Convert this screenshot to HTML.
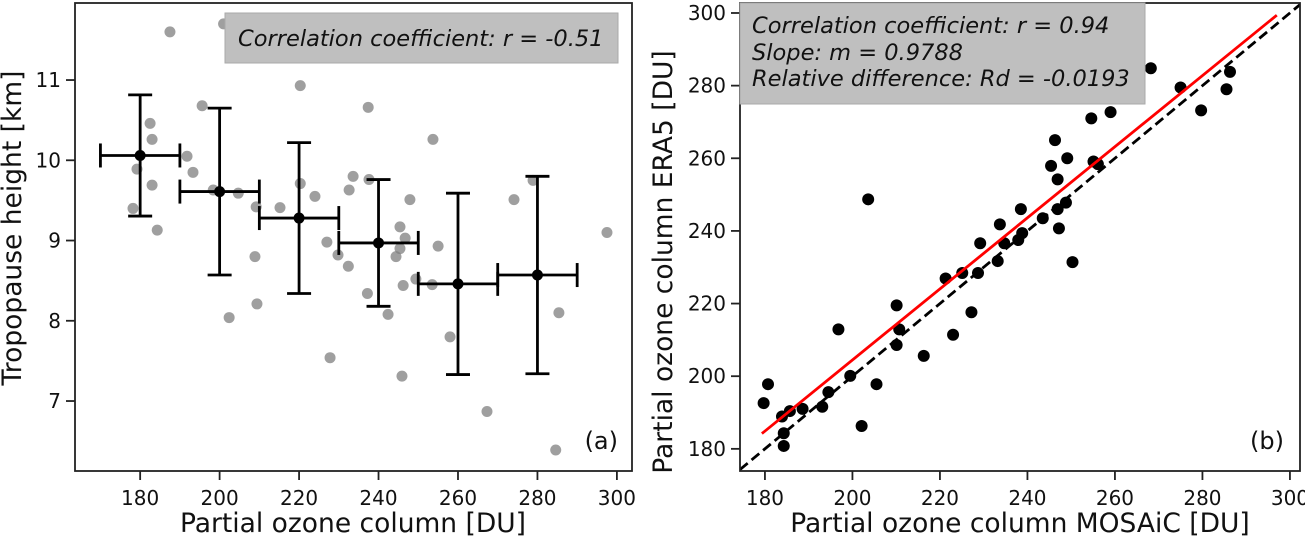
<!DOCTYPE html>
<html><head><meta charset="utf-8"><style>
body{margin:0;background:#fff;width:1305px;height:538px;overflow:hidden}
svg{font-family:"DejaVu Sans","Liberation Sans",sans-serif}
</style></head><body>
<svg id="c" width="1305" height="538"></svg>
<script>
const leftX=[187.5,201,195.6,220.3,237.4,253.7,182.5,183,191.8,193.3,179.2,183,178.2,184.3,198.4,204.7,209.2,215.2,220.3,224,233.6,232.6,237.6,247.9,245.4,227,229.8,246.7,245.4,244.4,249.4,246.2,253.5,255,208.9,209.4,232.4,237.2,242.4,202.4,227.8,245.9,258,267.3,274.1,278.9,285.4,297.5,284.6];
const leftY=[11.6,11.7,10.68,10.93,10.66,10.26,10.46,10.26,10.05,9.85,9.89,9.69,9.4,9.13,9.63,9.59,9.42,9.41,9.71,9.55,9.8,9.63,9.76,9.51,9.17,8.98,8.82,9.03,8.9,8.8,8.52,8.44,8.45,8.93,8.8,8.21,8.68,8.34,8.08,8.04,7.54,7.31,7.8,6.87,9.51,9.75,8.1,9.1,6.39];
const binX=[180,200,220,240,260,280];
const binXErr=[10,10,10,10,10,10];
const binY=[10.06,9.61,9.28,8.97,8.46,8.57];
const binYErr=[0.755,1.04,0.94,0.79,1.13,1.23];
const leftTicksX=[180,200,220,240,260,280,300];
const leftTicksY=[7,8,9,10,11];
const rightX=[179.7,180.7,183.9,185.7,184.3,184.3,188.6,193.1,194.5,196.8,199.5,202.1,203.6,205.5,210.1,210.7,210.1,216.3,221.3,223.0,225.1,227.2,228.7,229.2,233.2,233.7,234.7,237.9,238.5,238.8,243.5,245.4,246.3,246.9,246.9,247.2,248.8,249.1,250.3,254.6,255.1,256.1,259.0,268.2,275.0,279.7,285.5,286.3];
const rightY=[192.6,197.8,188.9,190.4,184.3,180.8,191.0,191.6,195.6,212.9,200.1,186.3,248.7,197.8,219.5,212.9,208.6,205.6,226.9,211.4,228.4,217.6,228.4,236.6,231.7,241.8,236.6,237.5,246.0,239.4,243.5,257.9,265.0,254.2,246.0,240.7,247.8,260.0,231.4,271.0,259.1,258.4,272.7,284.8,279.5,273.2,279.0,283.8];
const fitSlope=0.9788, fitIntercept=8.7, fitRange=[179.3,297];
const rightTicksX=[180,200,220,240,260,280,300];
const rightTicksY=[180,200,220,240,260,280,300];

const svg=document.getElementById('c');const NS='http://www.w3.org/2000/svg';
function mk(t,a,p){const e=document.createElementNS(NS,t);for(const k in a)e.setAttribute(k,a[k]);(p||svg).appendChild(e);return e;}
const L={x0:75,x1:632,y0:3,y1:471,d0:163.6,d1:303.8,v0:6.128,v1:11.96};
const R={x0:740,x1:1300,y0:3,y1:471,d0:174.3,d1:302.3,v0:173.9,v1:302.75};
function sx(A,v){return A.x0+(v-A.d0)/(A.d1-A.d0)*(A.x1-A.x0);}
function sy(A,v){return A.y1-(v-A.v0)/(A.v1-A.v0)*(A.y1-A.y0);}

function axes(A,tx,ty,name){
  const g=mk('g',{});
  
  
  tx.forEach(t=>{const x=sx(A,t);
    const l=mk('line',{x1:x,x2:x,y1:A.y1,y2:A.y1+9,stroke:'#222','stroke-width':1.8},g);
    
    const tt=mk('text',{x:x,y:A.y1+34,'text-anchor':'middle','font-size':20,fill:'#111'},g);tt.textContent=t;
    });
  ty.forEach(t=>{const y=sy(A,t);
    const l=mk('line',{x1:A.x0-9,x2:A.x0,y1:y,y2:y,stroke:'#222','stroke-width':1.8},g);
    
    const tt=mk('text',{x:A.x0-14,y:y+7,'text-anchor':'end','font-size':20,fill:'#111'},g);tt.textContent=t;
    });
  return g;
}
function frame(A,name){const r=mk('rect',{x:A.x0,y:A.y0,width:A.x1-A.x0,height:A.y1-A.y0,fill:'none',stroke:'#222','stroke-width':1.8});
  }
function clip(A,id){const d=mk('defs',{});const c=mk('clipPath',{id:id},d);mk('rect',{x:A.x0,y:A.y0,width:A.x1-A.x0,height:A.y1-A.y0},c);}
clip(L,'cl');clip(R,'cr');
axes(L,leftTicksX,leftTicksY,'left');axes(R,rightTicksX,rightTicksY,'right');

const gl=mk('g',{'clip-path':'url(#cl)'});
leftX.forEach((v,i)=>{const c=mk('circle',{cx:sx(L,v),cy:sy(L,leftY[i]),r:5.5,fill:'#7f7f7f','fill-opacity':0.75},gl);
  });
binX.forEach((v,i)=>{const g=mk('g',{stroke:'#000','stroke-width':2.8},gl);
  
  const x=sx(L,v),y=sy(L,binY[i]),xa=sx(L,v-binXErr[i]),xb=sx(L,v+binXErr[i]),ya=sy(L,binY[i]+binYErr[i]),yb=sy(L,binY[i]-binYErr[i]);
  mk('line',{x1:xa,x2:xb,y1:y,y2:y},g);mk('line',{x1:x,x2:x,y1:ya,y2:yb},g);
  mk('line',{x1:xa,x2:xa,y1:y-12,y2:y+12},g);mk('line',{x1:xb,x2:xb,y1:y-12,y2:y+12},g);
  mk('line',{x1:x-12,x2:x+12,y1:ya,y2:ya},g);mk('line',{x1:x-12,x2:x+12,y1:yb,y2:yb},g);
  mk('circle',{cx:x,cy:y,r:5.5,fill:'#000',stroke:'none'},g);});
frame(L,'left');
const gr=mk('g',{'clip-path':'url(#cr)'});
const dl=mk('line',{x1:sx(R,R.d0),y1:sy(R,R.d0),x2:sx(R,R.d1),y2:sy(R,R.d1),stroke:'#000','stroke-width':2.8,'stroke-dasharray':'10,5'},gr);

rightX.forEach((v,i)=>{const c=mk('circle',{cx:sx(R,v),cy:sy(R,rightY[i]),r:6,fill:'#000'},gr);
  });
const fl=mk('line',{x1:sx(R,fitRange[0]),y1:sy(R,fitSlope*fitRange[0]+fitIntercept),x2:sx(R,fitRange[1]),y2:sy(R,fitSlope*fitRange[1]+fitIntercept),stroke:'#ff0000','stroke-width':2.8},gr);

frame(R,'right');
</script>
<svg width="1305" height="538" style="position:absolute;left:0;top:0">
 <g font-family="DejaVu Sans, Liberation Sans, sans-serif">
 <rect x="225" y="13" width="393" height="50" fill="#bfbfbf" stroke="#aaa"/>
 <text x="238" y="46" font-size="22.5" font-style="italic" fill="#111">Correlation coefficient: r = -0.51</text>
 <rect x="740" y="3" width="405" height="101" fill="#bfbfbf" stroke="#aaa"/>
 <text x="752" y="33" font-size="22.5" font-style="italic" fill="#111">Correlation coefficient: r = 0.94</text>
 <text x="752" y="60" font-size="22.5" font-style="italic" fill="#111">Slope: m = 0.9788</text>
 <text x="752" y="86" font-size="22.5" font-style="italic" fill="#111">Relative difference: Rd = -0.0193</text>
 <text x="618" y="449" font-size="24" text-anchor="end" fill="#111">(a)</text>
 <text x="1284" y="449" font-size="24" text-anchor="end" fill="#111">(b)</text>
 <text x="353" y="532" font-size="26.5" text-anchor="middle" fill="#111">Partial ozone column [DU]</text>
 <text x="1020" y="532" font-size="26.5" text-anchor="middle" fill="#111">Partial ozone column MOSAiC [DU]</text>
 <text transform="translate(21,228) rotate(-90)" font-size="26.5" text-anchor="middle" fill="#111">Tropopause height [km]</text>
 <text transform="translate(672,262) rotate(-90)" font-size="26.5" text-anchor="middle" fill="#111">Partial ozone column ERA5 [DU]</text>
 </g>
</svg>
</body></html>
